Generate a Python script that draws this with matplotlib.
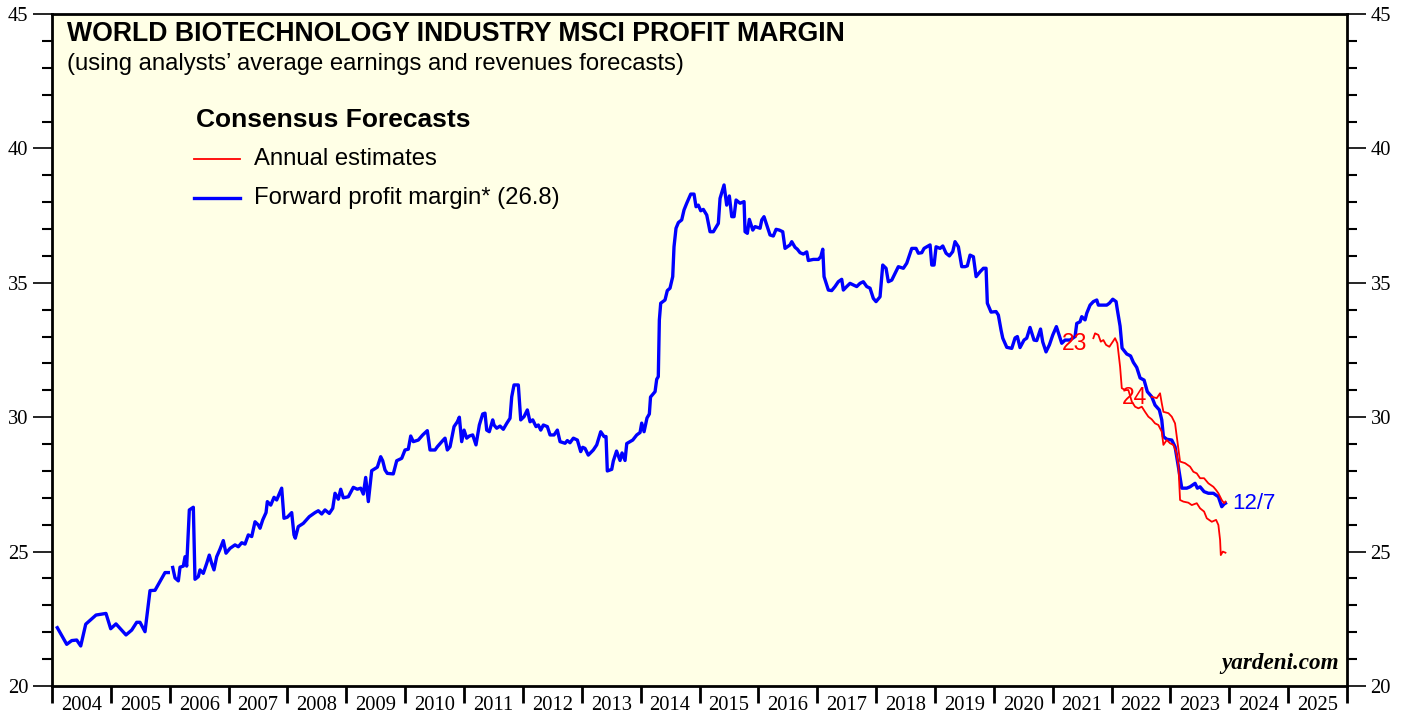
import numpy as np
import matplotlib
matplotlib.use('Agg')
import matplotlib.pyplot as plt
from matplotlib.ticker import MultipleLocator, FixedLocator, NullFormatter

# forward profit margin (weekly-ish readings, decimal years)
fwd_year = [2004.090, 2004.250, 2004.335, 2004.420, 2004.488, 2004.573, 2004.748, 2004.917, 2004.997, 2005.087,
            2005.257, 2005.354, 2005.439, 2005.495, 2005.580, 2005.665, 2005.750, 2005.920, 2005.976, np.nan,
            2006.051, 2006.090, 2006.146, 2006.175, 2006.231, 2006.260, 2006.288, 2006.333, 2006.401, 2006.429,
            2006.486, 2006.514, 2006.570, 2006.628, 2006.672, 2006.713, 2006.752, 2006.798, 2006.854, 2006.910,
            2006.956, 2007.024, 2007.109, 2007.165, 2007.223, 2007.279, 2007.335, 2007.393, 2007.449, 2007.505,
            2007.534, 2007.580, 2007.636, 2007.658, 2007.716, 2007.772, 2007.817, 2007.902, 2007.941, 2007.998,
            2008.072, 2008.111, 2008.133, 2008.184, 2008.269, 2008.371, 2008.468, 2008.524, 2008.582, 2008.638,
            2008.711, 2008.769, 2008.808, 2008.864, 2008.905, 2008.949, 2009.034, 2009.119, 2009.187, 2009.245,
            2009.289, 2009.329, 2009.374, 2009.431, 2009.527, 2009.584, 2009.618, 2009.657, 2009.696, 2009.798,
            2009.856, 2009.941, 2009.997, 2010.053, 2010.094, 2010.138, 2010.223, 2010.298, 2010.376, 2010.422,
            2010.507, 2010.546, 2010.638, 2010.677, 2010.716, 2010.762, 2010.830, 2010.886, 2010.920, 2010.960,
            2011.000, 2011.045, 2011.090, 2011.147, 2011.203, 2011.260, 2011.317, 2011.356, 2011.385, 2011.429,
            2011.487, 2011.509, 2011.555, 2011.611, 2011.667, 2011.725, 2011.781, 2011.810, 2011.849, 2011.922,
            2011.963, 2012.019, 2012.075, 2012.121, 2012.167, 2012.223, 2012.262, 2012.303, 2012.347, 2012.415,
            2012.461, 2012.529, 2012.585, 2012.631, 2012.716, 2012.755, 2012.800, 2012.857, 2012.925, 2012.982,
            2013.016, 2013.055, 2013.111, 2013.196, 2013.254, 2013.322, 2013.378, 2013.412, 2013.434, 2013.509,
            2013.536, 2013.591, 2013.650, 2013.684, 2013.735, 2013.764, 2013.820, 2013.866, 2013.934, 2013.990,
            2014.018, 2014.058, 2014.108, 2014.148, 2014.168, 2014.245, 2014.273, 2014.300, 2014.318, 2014.341,
            2014.414, 2014.453, 2014.499, 2014.545, 2014.567, 2014.601, 2014.641, 2014.698, 2014.737, 2014.783,
            2014.851, 2014.907, 2014.941, 2014.980, 2015.021, 2015.065, 2015.123, 2015.179, 2015.235, 2015.320,
            2015.349, 2015.417, 2015.462, 2015.507, 2015.548, 2015.587, 2015.621, 2015.689, 2015.757, 2015.774,
            2015.813, 2015.847, 2015.905, 2015.944, 2016.029, 2016.058, 2016.096, 2016.142, 2016.198, 2016.254,
            2016.301, 2016.357, 2016.414, 2016.453, 2016.538, 2016.567, 2016.623, 2016.662, 2016.708, 2016.764,
            2016.822, 2016.849, 2016.934, 2017.019, 2017.060, 2017.094, 2017.116, 2017.189, 2017.246, 2017.302,
            2017.358, 2017.416, 2017.444, 2017.501, 2017.557, 2017.613, 2017.671, 2017.727, 2017.783, 2017.841,
            2017.897, 2017.953, 2017.999, 2018.067, 2018.113, 2018.169, 2018.208, 2018.266, 2018.322, 2018.378,
            2018.463, 2018.521, 2018.577, 2018.606, 2018.679, 2018.718, 2018.776, 2018.815, 2018.861, 2018.917,
            2018.946, 2018.985, 2019.019, 2019.087, 2019.133, 2019.189, 2019.245, 2019.302, 2019.341, 2019.398,
            2019.455, 2019.511, 2019.550, 2019.596, 2019.653, 2019.699, 2019.766, 2019.823, 2019.868, 2019.890,
            2019.953, 2020.038, 2020.077, 2020.123, 2020.152, 2020.220, 2020.305, 2020.361, 2020.400, 2020.445,
            2020.513, 2020.559, 2020.615, 2020.683, 2020.729, 2020.794, 2020.831, 2020.887, 2020.944, 2021.002,
            2021.063, 2021.117, 2021.154, 2021.210, 2021.295, 2021.380, 2021.409, 2021.465, 2021.494, 2021.550,
            2021.579, 2021.635, 2021.691, 2021.749, 2021.776, 2021.861, 2021.919, 2021.963, 2022.021, 2022.077,
            2022.099, 2022.145, 2022.179, 2022.259, 2022.323, 2022.371, 2022.428, 2022.485, 2022.553, 2022.608,
            2022.683, 2022.739, 2022.812, 2022.853, 2022.881, 2022.938, 2023.023, 2023.079, 2023.135, 2023.193,
            2023.278, 2023.334, 2023.419, 2023.458, 2023.504, 2023.572, 2023.645, 2023.730, 2023.815, 2023.872,
            2023.912, 2023.935]
fwd_margin = [22.17, 21.55, 21.69, 21.71, 21.49, 22.30, 22.64, 22.70, 22.13, 22.31,
              21.90, 22.08, 22.37, 22.37, 22.02, 23.55, 23.56, 24.22, 24.22, np.nan,
              24.41, 24.02, 23.91, 24.42, 24.46, 24.81, 24.46, 26.55, 26.65, 23.97,
              24.07, 24.32, 24.19, 24.56, 24.87, 24.56, 24.32, 24.81, 25.09, 25.41,
              24.94, 25.12, 25.25, 25.18, 25.33, 25.28, 25.62, 25.56, 26.11, 25.99,
              25.87, 26.18, 26.45, 26.86, 26.73, 27.02, 26.92, 27.36, 26.24, 26.28,
              26.45, 25.62, 25.50, 25.93, 26.05, 26.30, 26.45, 26.52, 26.40, 26.55,
              26.42, 26.61, 27.17, 26.95, 27.32, 27.00, 27.04, 27.39, 27.32, 27.36,
              27.14, 27.76, 26.86, 28.01, 28.14, 28.53, 28.38, 28.04, 27.91, 27.89,
              28.38, 28.47, 28.78, 28.81, 29.30, 29.09, 29.15, 29.34, 29.50, 28.78,
              28.78, 28.90, 29.13, 29.22, 28.78, 28.90, 29.65, 29.83, 30.00, 29.09,
              29.52, 29.22, 29.30, 29.34, 28.97, 29.71, 30.12, 30.15, 29.52, 29.46,
              29.90, 29.71, 29.59, 29.67, 29.55, 29.77, 29.96, 30.76, 31.20, 31.20,
              29.90, 30.02, 30.27, 29.83, 29.90, 29.65, 29.71, 29.52, 29.71, 29.65,
              29.34, 29.34, 29.52, 29.09, 29.03, 29.13, 29.05, 29.22, 29.15, 28.72,
              28.88, 28.84, 28.59, 28.78, 28.97, 29.46, 29.28, 29.28, 28.00, 28.06,
              28.37, 28.74, 28.39, 28.67, 28.39, 29.02, 29.09, 29.15, 29.34, 29.43,
              29.78, 29.46, 29.97, 30.12, 30.75, 30.95, 31.41, 31.51, 33.62, 34.24,
              34.36, 34.71, 34.80, 35.23, 36.34, 37.03, 37.24, 37.34, 37.71, 37.96,
              38.30, 38.30, 37.83, 37.89, 37.68, 37.73, 37.52, 36.90, 36.90, 37.21,
              38.14, 38.64, 37.89, 38.23, 37.46, 37.46, 38.08, 37.96, 38.02, 36.90,
              36.84, 37.36, 36.96, 37.09, 37.03, 37.34, 37.46, 37.15, 36.78, 36.74,
              36.99, 36.96, 36.90, 36.28, 36.41, 36.53, 36.32, 36.25, 36.12, 36.07,
              36.15, 35.83, 35.87, 35.87, 35.97, 36.25, 35.23, 34.73, 34.71, 34.86,
              35.04, 35.13, 34.73, 34.86, 34.98, 34.92, 34.86, 34.98, 35.04, 34.86,
              34.80, 34.42, 34.30, 34.48, 35.66, 35.54, 35.04, 35.10, 35.35, 35.60,
              35.54, 35.73, 36.10, 36.28, 36.28, 36.10, 36.12, 36.28, 36.34, 36.41,
              35.66, 35.66, 36.34, 36.28, 36.37, 36.10, 36.00, 36.16, 36.53, 36.34,
              35.60, 35.60, 35.63, 36.03, 35.97, 35.23, 35.41, 35.54, 35.54, 34.24,
              33.91, 33.93, 33.80, 33.24, 32.94, 32.60, 32.56, 32.95, 33.00, 32.59,
              32.87, 32.94, 33.34, 32.87, 32.85, 33.28, 32.80, 32.43, 32.69, 33.06,
              33.37, 33.00, 32.75, 32.87, 32.87, 33.00, 33.49, 33.55, 33.74, 33.62,
              33.87, 34.17, 34.30, 34.36, 34.17, 34.17, 34.17, 34.24, 34.39, 34.30,
              33.99, 33.39, 32.57, 32.35, 32.28, 32.04, 31.85, 31.46, 31.38, 30.95,
              30.76, 30.45, 30.27, 29.90, 29.28, 29.18, 29.15, 28.90, 28.16, 27.36,
              27.36, 27.41, 27.54, 27.36, 27.41, 27.23, 27.17, 27.17, 27.04, 26.67,
              26.77, 26.80]

# annual estimates: 2023 and 2024
est23_year = [2021.691, 2021.720, 2021.776, 2021.817, 2021.861, 2021.907, 2021.963, 2022.021, 2022.060, 2022.099,
              2022.145, 2022.174, 2022.230, 2022.286, 2022.344, 2022.400, 2022.456, 2022.514, 2022.569, 2022.625,
              2022.683, 2022.739, 2022.795, 2022.853, 2022.881, 2022.938, 2022.994, 2023.050, 2023.096, 2023.135,
              2023.164, 2023.220, 2023.305, 2023.363, 2023.448, 2023.504, 2023.572, 2023.618, 2023.703, 2023.776,
              2023.815, 2023.844, 2023.856, 2023.890, 2023.935]
est23 = [32.94, 33.12, 33.06, 32.81, 32.87, 32.69, 32.62, 32.81, 32.94, 32.75,
         31.88, 31.08, 31.01, 31.01, 30.58, 30.39, 30.33, 30.39, 30.20, 30.02,
         29.92, 29.77, 29.71, 29.46, 28.97, 29.15, 29.03, 28.97, 28.72, 28.22,
         26.92, 26.86, 26.82, 26.73, 26.80, 26.61, 26.49, 26.24, 26.11, 26.18,
         25.99, 25.43, 24.87, 25.00, 24.96]

est24_year = [2022.683, 2022.768, 2022.824, 2022.853, 2022.881, 2022.966, 2023.023, 2023.079, 2023.108, 2023.164,
              2023.249, 2023.334, 2023.390, 2023.448, 2023.504, 2023.572, 2023.645, 2023.730, 2023.776, 2023.815,
              2023.872, 2023.912, 2023.935]
est24 = [30.76, 30.71, 30.89, 30.52, 30.20, 30.15, 30.02, 29.77, 29.28, 28.35,
         28.29, 28.16, 27.97, 27.91, 27.73, 27.73, 27.54, 27.41, 27.29, 27.17,
         26.92, 26.80, 26.86]

years = list(range(2004, 2026))

plt.rcParams['font.family'] = ['Liberation Sans', 'DejaVu Sans']

fig = plt.figure(figsize=(14.07, 7.17), dpi=100)
ax = fig.add_axes([52/1407, 1-686/717, 1295/1407, 672/717])
ax.set_facecolor('#FFFFE6')

ax.plot(fwd_year, fwd_margin, color='#0000FF', lw=2.4, solid_joinstyle='round', zorder=3)
ax.plot(est23_year, est23, color='#FF0000', lw=1.3, zorder=4)
ax.plot(est24_year, est24, color='#FF0000', lw=1.3, zorder=4)

ax.set_xlim(2004, 2026)
ax.set_ylim(20, 45)

for s in ax.spines.values():
    s.set_linewidth(2)

# x axis: year boundaries as ticks, labels centered in the year
ax.xaxis.set_major_locator(FixedLocator(range(2004, 2027)))
ax.xaxis.set_major_formatter(NullFormatter())
ax.xaxis.set_minor_locator(FixedLocator([y + 0.5 for y in years]))
ax.set_xticklabels([str(y) for y in years], minor=True)
ax.tick_params(axis='x', which='major', direction='out', length=12, width=2)
ax.tick_params(axis='x', which='minor', length=0, pad=7, labelsize=14.8,
               labelfontfamily='Liberation Serif')

ax.yaxis.set_major_locator(MultipleLocator(5))
ax.yaxis.set_minor_locator(MultipleLocator(1))
ax.tick_params(axis='y', which='major', direction='out', length=14, width=1.2,
               left=True, right=True, labelleft=True, labelright=True, labelsize=14.8,
               labelfontfamily='Liberation Serif', pad=3)
ax.tick_params(axis='y', which='minor', direction='out', length=7, width=1.5,
               left=True, right=True)

ax.text(0.0116, 0.970, 'WORLD BIOTECHNOLOGY INDUSTRY MSCI PROFIT MARGIN', transform=ax.transAxes,
        fontsize=19.2, fontweight='bold', va='center', ha='left')
ax.text(0.0116, 0.925, '(using analysts\u2019 average earnings and revenues forecasts)', transform=ax.transAxes,
        fontsize=17.2, va='center', ha='left')

# legend drawn by hand
ax.text(0.111, 0.842, 'Consensus Forecasts', transform=ax.transAxes,
        fontsize=19, fontweight='bold', va='center', ha='left')
ax.plot([0.110, 0.145], [0.784, 0.784], transform=ax.transAxes, color='#FF0000', lw=1.3)
ax.text(0.156, 0.784, 'Annual estimates', transform=ax.transAxes, fontsize=17.2, va='center', ha='left')
ax.plot([0.110, 0.145], [0.726, 0.726], transform=ax.transAxes, color='#0000FF', lw=2.4)
ax.text(0.156, 0.726, 'Forward profit margin* (26.8)', transform=ax.transAxes, fontsize=17.2,
        va='center', ha='left')

ax.text(2021.59, 32.75, '23', color='#FF0000', fontsize=16.5, ha='right', va='center', zorder=5)
ax.text(2022.60, 30.75, '24', color='#FF0000', fontsize=16.5, ha='right', va='center', zorder=5)
ax.text(fwd_year[-1] + 0.12, fwd_margin[-1], '12/7', color='#0000FF', fontsize=16,
        ha='left', va='center', zorder=5)

ax.text(0.9935, 0.018, 'yardeni.com', transform=ax.transAxes, fontsize=16.7, fontweight='bold',
        fontstyle='italic', family='Liberation Serif', ha='right', va='bottom')

fig.savefig('out.png', dpi=100)
